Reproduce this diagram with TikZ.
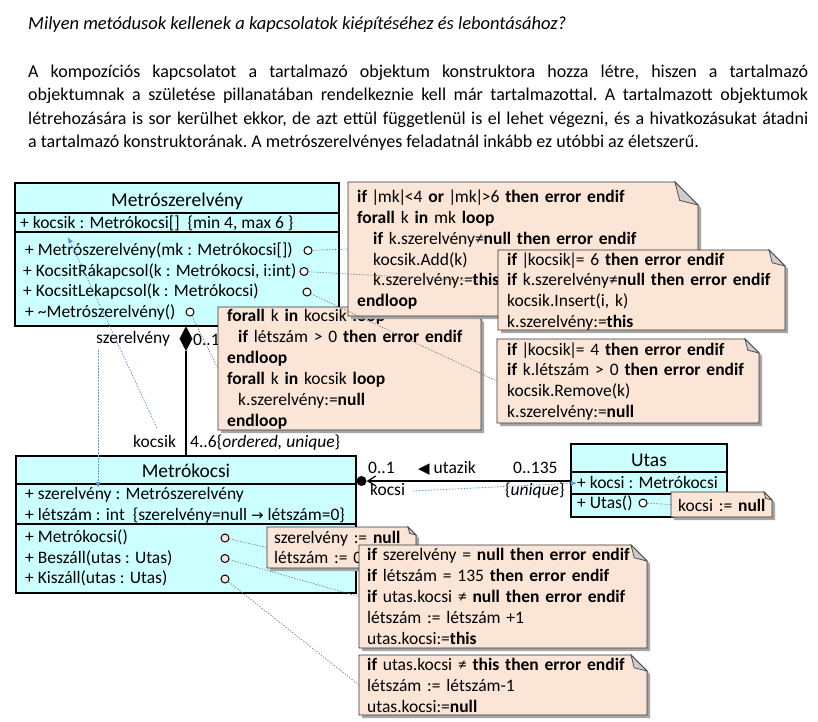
\documentclass[tikz,border=0pt]{standalone}
\usepackage{fontspec}
\setmainfont{Carlito}
\newfontfamily\symfont{DejaVu Sans}
\usetikzlibrary{arrows.meta,shapes.geometric}
\definecolor{clsfill}{RGB}{204,255,255}
\definecolor{notefillc}{RGB}{251,229,214}
\definecolor{navblue}{RGB}{91,155,213}
\definecolor{foldgray}{RGB}{205,205,205}
\newcommand\vbar{\kern-1.5pt|\kern-1.5pt}
\newcommand\nequ{≠}
\tikzset{
  clsbox/.style={draw=black, line width=1.3pt, fill=clsfill, inner sep=0pt, outer sep=0pt, anchor=north west},
  clsname/.style={inner sep=0pt, anchor=base, font=\fontsize{19.5}{22}\selectfont},
  clstxt/.style={inner sep=0pt, anchor=base west, font=\fontsize{17.5}{21}\selectfont},
  notebody/.style={draw=black!80, line width=0.9pt, fill=notefillc},
  notefold/.style={draw=black!70, line width=0.8pt, fill=foldgray},
  notetxt/.style={inner sep=0pt, align=left, font=\fontsize{17.5}{20.9}\selectfont},
  opcirc/.style={circle, draw=black, line width=1pt, fill=white, minimum size=8pt, inner sep=0pt},
  opcircp/.style={opcirc, fill=notefillc},
  noteline/.style={draw=black!55, line width=0.6pt, dash pattern=on 1.4pt off 1.4pt},
  navline/.style={draw=navblue, line width=0.8pt, dash pattern=on 1.5pt off 1.5pt, -{Latex[length=6pt,width=5pt]}},
}
\newcommand\umlnote[9]{%
  \fill[black!35] (#2+3,#3+3) -- (#4-#6+3,#3+3) -- (#4+3,#3+#6+3) -- (#4+3,#5+3) -- (#2+3,#5+3) -- cycle;
  \draw[notebody] (#2,#3) -- (#4-#6,#3) -- (#4,#3+#6) -- (#4,#5) -- (#2,#5) -- cycle;
  \draw[notefold] (#4-#6,#3) -- (#4-0.8*#6,#3+0.8*#6) -- (#4,#3+#6) -- cycle;
  \pgfmathsetmacro\notetw{#4-#2-4}%
  \node[inner sep=0pt, outer sep=0pt, minimum width=#4-#2, minimum height=#5-#3, anchor=north west] (#1) at (#2,#3) {};
  \node[notetxt, text width=\notetw pt, anchor=base west] (#1t) at (#7,#8) {#9};
}
\begin{document}
\begin{tikzpicture}[x=1pt,y=-1pt]
\useasboundingbox (0,0) rectangle (818,721);
\fill[white] (0,0) rectangle (818,721);

% heading and paragraph
\node[inner sep=0pt, anchor=base west, font=\fontsize{18.5}{21}\selectfont\itshape] (title) at (28,29)
  {Milyen metódusok kellenek a kapcsolatok kiépítéséhez és lebontásához?};
\node[inner sep=0pt, anchor=base west, text width=780pt, align=justify, font=\fontsize{18}{23.5}\selectfont] (para) at (28,77)
  {\frenchspacing\hyphenpenalty=10000 A kompozíciós kapcsolatot a tartalmazó objektum konstruktora hozza létre, hiszen a tartalmazó\linebreak
   objektumnak a születése pillanatában rendelkeznie kell már tartalmazottal. A tartalmazott objektumok\linebreak
   létrehozására is sor kerülhet ekkor, de azt ettül függetlenül is el lehet végezni, és a hivatkozásukat átadni\linebreak
   a tartalmazó konstruktorának. A metrószerelvényes feladatnál inkább ez utóbbi az életszerű.};

% class Metroszerelveny
\node[clsbox, minimum width=324pt, minimum height=30pt] (msH) at (15,183) {};
\node[clsbox, minimum width=324pt, minimum height=19pt] (msA) at (15,213) {};
\node[clsbox, minimum width=324pt, minimum height=94pt] (msO) at (15,232) {};
\node[clsname] (msName) at (177,206) {Metrószerelvény};
\node[clstxt] (msAttr) at (20,228) {+ kocsik : Metrókocsi[]\ \ \{min 4, max 6 \}};
\node[clstxt] (msOp1) at (25,255.5) {+ Metrószerelvény(mk : Metrókocsi[])};
\node[clstxt] (msOp2) at (23,276) {+ KocsitRákapcsol(k : Metrókocsi, i:int)};
\node[clstxt] (msOp3) at (23,296.5) {+ KocsitLekapcsol(k : Metrókocsi)};
\node[clstxt] (msOp4) at (25,317) {+ \textasciitilde Metrószerelvény()};

% class Metrokocsi
\node[clsbox, minimum width=340pt, minimum height=28pt] (mkH) at (16,456) {};
\node[clsbox, minimum width=340pt, minimum height=40pt] (mkA) at (16,484) {};
\node[clsbox, minimum width=340pt, minimum height=69pt] (mkO) at (16,524) {};
\node[clsname] (mkName) at (186,477) {Metrókocsi};
\node[clstxt] (mkA1) at (25,499) {+ szerelvény : Metrószerelvény};
\node[clstxt] (mkA2) at (25,520) {+ létszám : int\ \ \{szerelvény=null {\symfont\fontsize{15}{15}\selectfont →} létszám=0\}};
\node[clstxt] (mkO1) at (25,542.5) {+ Metrókocsi()};
\node[clstxt] (mkO2) at (25,563) {+ Beszáll(utas : Utas)};
\node[clstxt] (mkO3) at (25,583.5) {+ Kiszáll(utas : Utas)};

% class Utas
\node[clsbox, minimum width=156pt, minimum height=28pt] (utH) at (571,444) {};
\node[clsbox, minimum width=156pt, minimum height=22pt] (utA) at (571,472) {};
\node[clsbox, minimum width=156pt, minimum height=23pt] (utO) at (571,494) {};
\node[clsname] (utName) at (649,466) {Utas};
\node[clstxt] (utA1) at (577,488) {+ kocsi : Metrókocsi};
\node[clstxt] (utO1) at (577,508.5) {+ Utas()};

% composition
\node[diamond, fill=black, inner sep=0pt, minimum width=13pt, minimum height=25pt, anchor=north] (dia) at (186,326) {};
\draw[line width=1.3pt] (dia.south) -- (dia.south |- mkH.north);
\node[clstxt] (lSzer) at (96,343) {szerelvény};
\node[clstxt] (lM01) at (193,345) {0..1};
\node[clstxt] (lKocsik) at (133,447) {kocsik};
\node[clstxt] (lM46) at (190,447) {4..6\{\textit{ordered, unique}\}};

% association utazik
\node[circle, fill=black, inner sep=0pt, minimum size=10pt] (dot) at (361.5,481) {};
\draw[line width=1.3pt, -{Straight Barb[length=8pt,width=10pt,line width=1.2pt]}] (utA.west |- dot) -- (dot.east);
\node[clstxt] (lA01) at (368,473) {0..1};
\node[clstxt] (lUtazik) at (418,473) {{\symfont\fontsize{15}{15}\selectfont ◀}\ utazik};
\node[clstxt] (lA0135) at (513,473) {0..135};
\node[clstxt] (lKocsi) at (370,495) {kocsi};
\node[clstxt] (lUnique) at (505,495) {\{\textit{unique}\}};

% navigability (blue dotted)
\coordinate (navKs) at (157,428);
\coordinate (navKt) at (68,237);
\coordinate (navSs) at (98,350);
\coordinate (navSt) at (98,488);
\coordinate (navUs) at (413,491);
\coordinate (navUt) at (577,483);
\draw[navline] (navKs) -- (navKt);
\draw[navline] (navSs) -- (navSt);
\draw[navline] (navUs) -- (navUt);

% operation circles
\node[opcirc] (o1) at (308,250.5) {};
\node[opcirc] (o2) at (304,271.5) {};
\node[opcirc] (o3) at (307,292) {};
\node[opcirc] (o4) at (190,312) {};
\node[opcircp] (k1) at (225,538) {};
\node[opcircp] (k2) at (225,558.5) {};
\node[opcircp] (k3) at (225,579) {};
\node[opcirc] (u1) at (643,503) {};

% notes
\umlnote{n3}{218}{307}{481}{430}{12}{227}{321.7}{%
\textbf{forall} k \textbf{in} kocsik \textbf{loop}\\
\hspace*{11pt}\textbf{if} létszám > 0 \textbf{then error endif}\\
\textbf{endloop}\\
\textbf{forall} k \textbf{in} kocsik \textbf{loop}\\
\hspace*{11pt}k.szerelvény:=\textbf{null}\\
\textbf{endloop}}
\umlnote{n1}{348}{182}{698}{316}{23}{357}{202.3}{%
\textbf{if} \vbar mk\vbar<4 \textbf{or} \vbar mk\vbar>6 \textbf{then error endif}\\
\textbf{forall} k \textbf{in} mk \textbf{loop}\\
\hspace*{16pt}\textbf{if} k.szerelvény\nequ\textbf{null then error endif}\\
\hspace*{16pt}kocsik.Add(k)\\
\hspace*{16pt}k.szerelvény:=\textbf{this}\\
\textbf{endloop}}
\umlnote{n2}{498}{250}{785}{330}{16}{507}{265}{%
\textbf{if} \vbar kocsik\vbar= 6 \textbf{then error endif}\\
\textbf{if} k.szerelvény\nequ\textbf{null then error endif}\\
kocsik.Insert(i, k)\\
k.szerelvény:=\textbf{this}}
\umlnote{n4}{497}{339}{759}{423}{14}{507}{355}{%
\textbf{if} \vbar kocsik\vbar= 4 \textbf{then error endif}\\
\textbf{if} k.létszám > 0 \textbf{then error endif}\\
kocsik.Remove(k)\\
k.szerelvény:=\textbf{null}}
\umlnote{n5}{267}{527}{416}{568}{8}{274}{543}{%
szerelvény := \textbf{null}\\
létszám := 0}
\umlnote{n6}{359}{545}{647}{648}{16}{367}{560.7}{%
\textbf{if} szerelvény = \textbf{null then error endif}\\
\textbf{if} létszám = 135 \textbf{then error endif}\\
\textbf{if} utas.kocsi \nequ{} \textbf{null then error endif}\\
létszám := létszám +1\\
utas.kocsi:=\textbf{this}}
\umlnote{n7}{359}{655}{647}{715}{16}{367}{670.7}{%
\textbf{if} utas.kocsi \nequ{} \textbf{this then error endif}\\
létszám := létszám-1\\
utas.kocsi:=\textbf{null}}
\umlnote{n8}{671}{492}{772}{517}{8}{678}{511.7}{kocsi := \textbf{null}}

% note connectors
\draw[noteline] (o1) -- (n1.west);
\draw[noteline] (o2) -- (n2);
\draw[noteline] (o3) -- (n4.west);
\draw[noteline] (o4) -- (n3.west);
\draw[noteline] (k1) -- (n5.west);
\draw[noteline] (k2) -- (n6.west);
\draw[noteline] (k3) -- (n7.west);
\draw[noteline] (u1) -- (n8.west);
\end{tikzpicture}
\end{document}
